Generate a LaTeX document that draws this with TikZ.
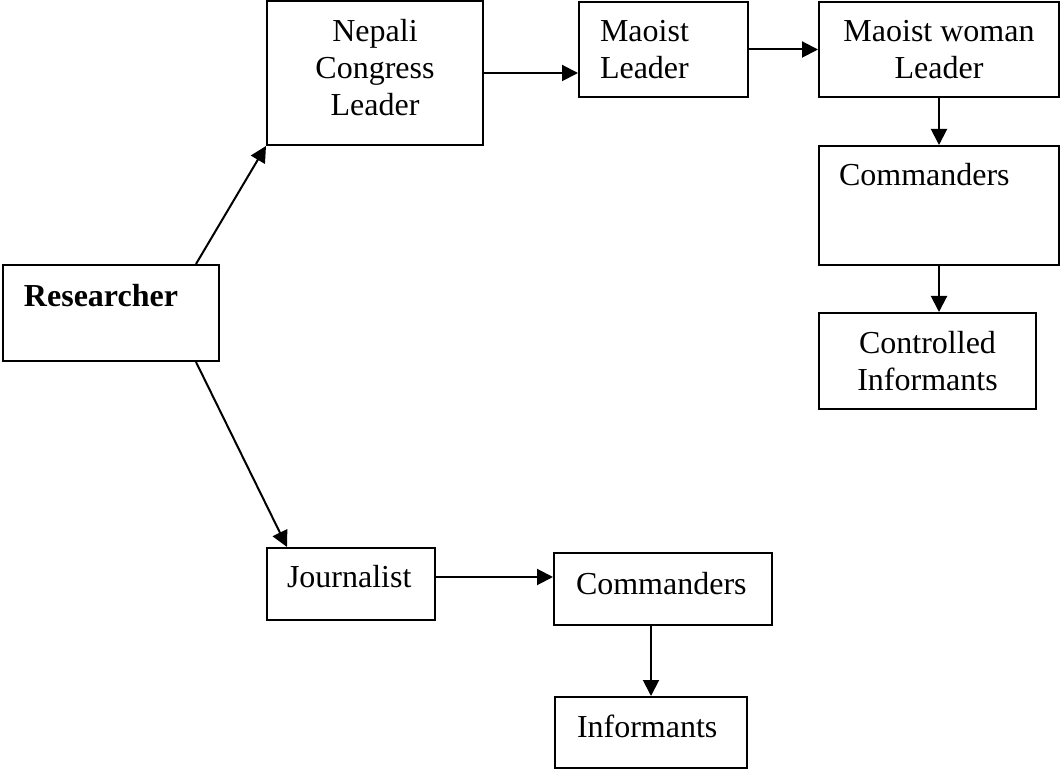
\documentclass[tikz,border=0pt]{standalone}
\usepackage{fontspec}
\setmainfont{Liberation Serif}
\usetikzlibrary{arrows.meta}

\begin{document}
\begin{tikzpicture}[x = 0.5pt, y = -0.5pt]
	\tikzstyle{boxStyle}=[shape = rectangle, draw, line width = 1pt, inner sep = 0pt, font = \fontsize{16pt}{18.75pt}\selectfont]
	\tikzstyle{leftStyle}=[boxStyle, inner xsep = 10.5pt, align = left]
	\tikzstyle{arrowStyle}=[line width = 1pt, -{Triangle[length = 8pt, width = 8pt]}]
	\useasboundingbox (0, 0) rectangle (1060, 769);
	\node[leftStyle, minimum width = 108pt, minimum height = 48pt, text width = 87pt, text height = 11pt, text depth = 17pt, font = \fontsize{16pt}{18.75pt}\selectfont\bfseries] (researcher) at (111, 313) {Researcher};
	\node[boxStyle, align = center, minimum width = 108pt, minimum height = 72pt, text width = 108pt, text height = 11pt, text depth = 42pt, font = \fontsize{16pt}{18.5pt}\selectfont] (nepali) at (375, 73) {Nepali\\Congress\\Leader};
	\node[leftStyle, minimum width = 84.5pt, minimum height = 47.5pt, text width = 63.5pt] (maoist) at (663.5, 49.5) {Maoist\\Leader};
	\node[boxStyle, align = center, minimum width = 120pt, minimum height = 47.5pt] (woman) at (939, 49.5) {Maoist woman\\Leader};
	\node[leftStyle, inner xsep = 10pt, minimum width = 120pt, minimum height = 59.5pt, text width = 100pt, text height = 11pt, text depth = 30.5pt] (commandersTop) at (939, 205.5) {Commanders};
	\node[boxStyle, align = center, minimum width = 108.5pt, minimum height = 48pt] (controlled) at (927.5, 361) {Controlled\\Informants};
	\node[leftStyle, inner xsep = 10pt, minimum width = 84pt, minimum height = 36pt, text width = 64pt, text height = 11pt, text depth = 7pt] (journalist) at (351, 584) {Journalist};
	\node[leftStyle, inner xsep = 11pt, minimum width = 109pt, minimum height = 36pt, text width = 87pt, text height = 11pt, text depth = 5pt] (commandersBottom) at (663, 589) {Commanders};
	\node[leftStyle, inner xsep = 11pt, minimum width = 96pt, minimum height = 35.5pt, text width = 74pt, text height = 11pt, text depth = 6.5pt] (informants) at (651, 732.5) {Informants};
	\draw[arrowStyle] ([xshift = -12pt]researcher.north east) -- (nepali.south west);
	\draw[arrowStyle] ([xshift = -12pt]researcher.south east) -- ([xshift = 10.5pt]journalist.north west);
	\draw[arrowStyle] (nepali.east) -- (nepali.east -| maoist.west);
	\draw[arrowStyle] (maoist.east) -- (woman.west);
	\draw[arrowStyle] (woman.south) -- (commandersTop.north);
	\draw[arrowStyle] (commandersTop.south) -- (commandersTop.south |- controlled.north);
	\draw[arrowStyle] ([yshift = 3.5pt]journalist.east) -- ([yshift = 6pt]commandersBottom.west);
	\draw[arrowStyle] (informants.north |- commandersBottom.south) -- (informants.north);
\end{tikzpicture}
\end{document}
